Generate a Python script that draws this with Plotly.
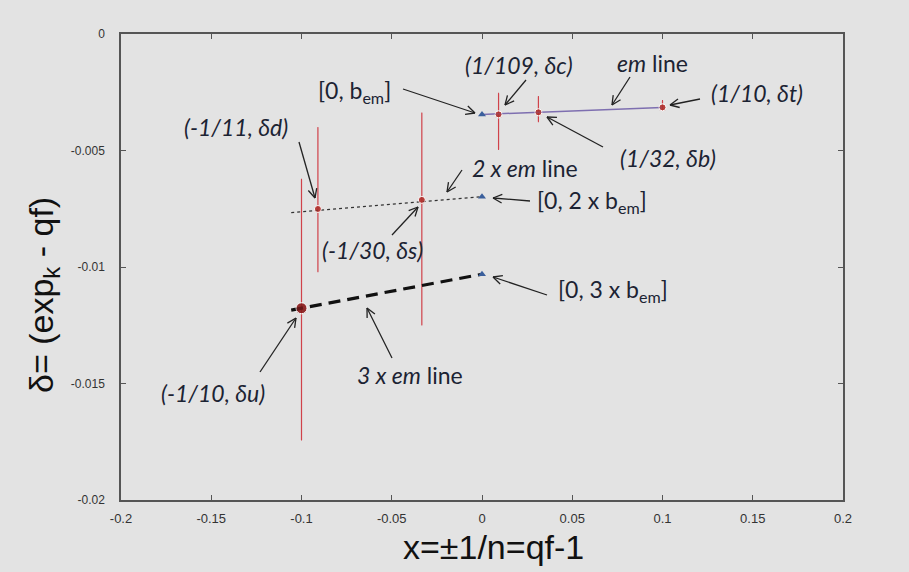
import math
import plotly.graph_objects as go

# ---- data ----
pt_names = ["δu", "δd", "δs", "δc", "δb", "δt"]
pt_x = [-1/10, -1/11, -1/30, 1/109, 1/32, 1/10]
pt_y = [-0.01177, -0.00751, -0.00712, -0.00345, -0.00336, -0.00315]
err_top = [-0.00624, -0.00402, -0.00339, -0.00255, -0.00269, -0.00286]
err_bot = [-0.01742, -0.01020, -0.01249, -0.00495, -0.00376, -0.00322]

bem_x = [0, 0, 0]
bem_y = [-0.00345, -0.00698, -0.01031]  # [0,b_em], [0,2 b_em], [0,3 b_em]

em_x = [0, 0.0997]
em_y = [-0.00345, -0.00315]
em2_x = [-0.1057, 0]
em2_y = [-0.00767, -0.00698]
em3_x = [-0.1057, 0]
em3_y = [-0.01185, -0.01031]

x_ticks = [-0.2, -0.15, -0.1, -0.05, 0, 0.05, 0.1, 0.15, 0.2]
x_tick_text = ["-0.2", "-0.15", "-0.1", "-0.05", "0", "0.05", "0.1", "0.15", "0.2"]
y_ticks = [0, -0.005, -0.01, -0.015, -0.02]
y_tick_text = ["0", "-0.005", "-0.01", "-0.015", "-0.02"]

# ---- layout geometry ----
W, H = 909, 572
L, R, T, B = 121, 66, 34, 72
PW, PH = W - L - R, H - T - B
BG = "#e3e3e3"
TXT = "#1c2333"
ANN_FONT = "Lato, 'Open Sans', sans-serif"
AX_FONT = "'Liberation Sans Narrow', 'Arial Narrow', 'Liberation Sans', Arial, sans-serif"


def paper(px, py):
    return (px - L) / PW, (H - B - py) / PH


fig = go.Figure()

pt_sizes = [11, 7, 7, 7, 7, 7]
pt_colors = ["#8a1c1c", "#b0302c", "#b0302c", "#b0302c", "#b0302c", "#b0302c"]

# error bars (red)
fig.add_trace(go.Scatter(
    x=pt_x, y=pt_y, mode="markers",
    marker=dict(size=pt_sizes, color=pt_colors),
    error_y=dict(type="data", symmetric=False,
                 array=[t - y for t, y in zip(err_top, pt_y)],
                 arrayminus=[y - b for b, y in zip(err_bot, pt_y)],
                 color="#d0424a", thickness=1.2, width=0.5),
    showlegend=False, hoverinfo="skip"))

# em line (purple)
fig.add_trace(go.Scatter(x=em_x, y=em_y, mode="lines",
                         line=dict(color="#7e6fb0", width=1.5),
                         showlegend=False, hoverinfo="skip"))
# 2 x em line (fine dotted)
fig.add_trace(go.Scatter(x=em2_x, y=em2_y, mode="lines",
                         line=dict(color="#333333", width=1.2, dash="3px,3px"),
                         showlegend=False, hoverinfo="skip"))
# 3 x em line (bold dashed)
fig.add_trace(go.Scatter(x=em3_x, y=em3_y, mode="lines",
                         line=dict(color="#111111", width=3.2, dash="12px,7px"),
                         showlegend=False, hoverinfo="skip"))

# points on top of lines
fig.add_trace(go.Scatter(x=pt_x, y=pt_y, mode="markers",
                         marker=dict(size=pt_sizes, color=pt_colors),
                         showlegend=False, hoverinfo="skip"))

# blue triangles at x = 0
fig.add_trace(go.Scatter(x=bem_x, y=bem_y, mode="markers",
                         marker=dict(symbol="triangle-up", size=7, color="#3a5f9c"),
                         showlegend=False, hoverinfo="skip"))

# ---- arrows (pointer lines with open V heads), figure-pixel positions ----
arrows = [  # (tail_px, tail_py, head_px, head_py)
    (403, 89, 475, 113),   # [0, b_em]
    (526, 80, 505, 105),   # (1/109, δc)
    (630, 77, 612, 105),   # em line
    (700, 99, 670, 105),   # (1/10, δt)
    (603, 147, 547, 117),  # (1/32, δb)
    (299, 142, 315, 198),  # (-1/11, δd)
    (462, 170, 447, 192),  # 2 x em line
    (530, 201, 493, 198),  # [0, 2 x b_em]
    (392, 235, 418, 207),  # (-1/30, δs)
    (547, 295, 493, 277),  # [0, 3 x b_em]
    (392, 358, 367, 308),  # 3 x em line
    (260, 372, 296, 318),  # (-1/10, δu)
]
shapes = []
line_style = dict(color="#222222", width=1.3)
for tx, ty, hx, hy in arrows:
    x0, y0 = paper(tx, ty)
    x1, y1 = paper(hx, hy)
    shapes.append(dict(type="line", xref="paper", yref="paper",
                       x0=x0, y0=y0, x1=x1, y1=y1, line=line_style))
    ang = math.atan2(ty - hy, tx - hx)
    for d in (0.45, -0.45):
        bx = hx + 10 * math.cos(ang + d)
        by = hy + 10 * math.sin(ang + d)
        bx0, by0 = paper(bx, by)
        shapes.append(dict(type="line", xref="paper", yref="paper",
                           x0=x1, y0=y1, x1=bx0, y1=by0, line=line_style))

# ---- labels ----
labels = [
    ("[0, b<sub>em</sub>]", 354, 91),
    ("<i>(1/109, δc)</i>", 519, 65),
    ("<i>em</i> line", 652, 63),
    ("<i>(1/10, δt)</i>", 757, 93),
    ("<i>(1/32, δb)</i>", 668, 158),
    ("<i>(-1/11, δd)</i>", 236, 127),
    ("<i>2 x em</i> line", 525, 168),
    ("[0, 2 x b<sub>em</sub>]", 592, 201),
    ("<i>(-1/30, δs)</i>", 372, 250),
    ("[0, 3 x b<sub>em</sub>]", 613, 290),
    ("<i>3 x em</i> line", 410, 375),
    ("<i>(-1/10, δu)</i>", 213, 393),
]
for text, px, py in labels:
    xp, yp = paper(px, py)
    fig.add_annotation(x=xp, y=yp, xref="paper", yref="paper", text=text,
                       showarrow=False, xanchor="center", yanchor="middle",
                       font=dict(family=ANN_FONT, size=23, color=TXT))

# axis titles
xt, yt = paper(494, 547)
fig.add_annotation(x=xt, y=yt, xref="paper", yref="paper", text="x=±1/n=qf-1",
                   showarrow=False, xanchor="center", yanchor="middle",
                   font=dict(family=AX_FONT, size=34, color="#111111"))
xt, yt = paper(43, 295)
fig.add_annotation(x=xt, y=yt, xref="paper", yref="paper",
                   text="δ= (exp<sub>k</sub> - qf)", textangle=-90,
                   showarrow=False, xanchor="center", yanchor="middle",
                   font=dict(family=AX_FONT, size=34, color="#111111"))

axis_common = dict(showline=True, linecolor="#555555", linewidth=1.5, mirror="ticks",
                   ticks="inside", ticklen=5, tickcolor="#555555", tickwidth=1.3,
                   showgrid=False, zeroline=False)

fig.update_layout(
    width=W, height=H,
    margin=dict(l=L, r=R, t=T, b=B),
    paper_bgcolor=BG, plot_bgcolor=BG,
    shapes=shapes,
    xaxis=dict(range=[-0.2, 0.2], tickvals=x_ticks, ticktext=x_tick_text,
               tickfont=dict(family=AX_FONT, size=13, color="#333333"),
               ticklabelstandoff=6, **axis_common),
    yaxis=dict(range=[-0.02, 0], tickvals=y_ticks, ticktext=y_tick_text,
               tickfont=dict(family="'Liberation Sans', Arial, sans-serif",
                             size=12, color="#333333"),
               ticklabelstandoff=12, **axis_common),
)

fig.write_html("out.html", config={"displayModeBar": False},
               post_script="document.body.style.margin='0px';"
                           "document.body.style.background='#e3e3e3';")
